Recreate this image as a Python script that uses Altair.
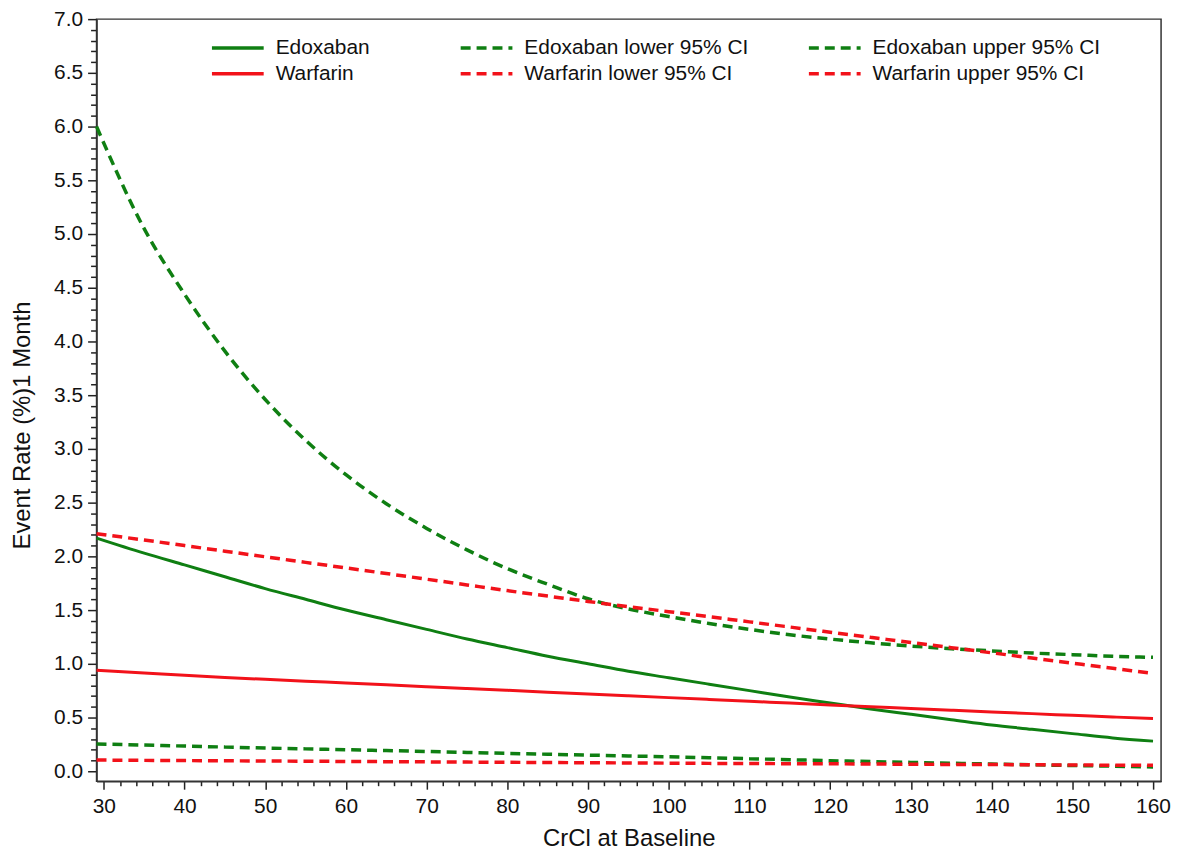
import altair as alt
import pandas as pd

# CrCl grid
crcl = [29.1, 35, 40, 45, 50, 55, 60, 65, 70, 75, 80, 85, 90, 95, 100,
        105, 110, 115, 120, 125, 130, 135, 140, 145, 150, 155, 160]

edoxaban = [2.17, 2.03, 1.92, 1.81, 1.70, 1.60, 1.50, 1.41, 1.32, 1.23, 1.15, 1.07, 1.00, 0.93, 0.87,
            0.81, 0.75, 0.69, 0.635, 0.58, 0.53, 0.48, 0.43, 0.39, 0.35, 0.31, 0.28]
warfarin = [0.940, 0.915, 0.893, 0.873, 0.855, 0.838, 0.821, 0.804, 0.787, 0.770, 0.753, 0.736, 0.719,
            0.702, 0.685, 0.668, 0.651, 0.634, 0.617, 0.600, 0.584, 0.568, 0.552, 0.536, 0.520, 0.505, 0.490]
edoxaban_lo = [0.254, 0.243, 0.234, 0.225, 0.216, 0.208, 0.200, 0.192, 0.184, 0.175, 0.166, 0.158, 0.150,
               0.142, 0.134, 0.125, 0.116, 0.107, 0.098, 0.090, 0.082, 0.074, 0.067, 0.060, 0.053, 0.047, 0.040]
warfarin_lo = [0.104, 0.101, 0.099, 0.097, 0.095, 0.093, 0.091, 0.089, 0.087, 0.085, 0.083, 0.081, 0.079,
               0.077, 0.075, 0.073, 0.072, 0.070, 0.069, 0.067, 0.065, 0.063, 0.062, 0.060, 0.058, 0.056, 0.055]
edoxaban_hi = [6.00, 5.05, 4.44, 3.91, 3.46, 3.08, 2.76, 2.49, 2.26, 2.06, 1.885, 1.74, 1.605, 1.51, 1.44,
               1.375, 1.32, 1.27, 1.23, 1.195, 1.165, 1.14, 1.12, 1.10, 1.085, 1.07, 1.06]
warfarin_hi = [2.210, 2.152, 2.100, 2.048, 1.996, 1.944, 1.892, 1.840, 1.787, 1.734, 1.681, 1.630, 1.580,
               1.532, 1.485, 1.438, 1.390, 1.342, 1.294, 1.246, 1.198, 1.150, 1.102, 1.054, 1.006, 0.958, 0.910]

GREEN = "#0f7f12"
RED = "#f2121a"
FONT = "Liberation Sans"


def frame(pairs):
    rows = []
    for name, vals in pairs:
        for c, v in zip(crcl, vals):
            rows.append({"crcl": c, "rate": v, "series": name})
    return pd.DataFrame(rows)


df_main = frame([("Edoxaban", edoxaban), ("Warfarin", warfarin)])
df_lo = frame([("Edoxaban lower 95% CI", edoxaban_lo), ("Warfarin lower 95% CI", warfarin_lo)])
df_hi = frame([("Edoxaban upper 95% CI", edoxaban_hi), ("Warfarin upper 95% CI", warfarin_hi)])

xscale = alt.Scale(domain=[29.1, 161], nice=False, zero=False)
yscale = alt.Scale(domain=[-0.093, 7.0], nice=False, zero=False)

x_major = alt.Axis(orient="bottom", values=list(range(30, 161, 10)), tickSize=8, tickWidth=1.5,
                   tickColor="#222", labelFontSize=21, labelFont=FONT, labelColor="#111",
                   labelPadding=6, title="CrCl at Baseline", titleFont=FONT, titleFontSize=24,
                   titleFontWeight="normal", titleColor="#111", titlePadding=11, grid=False,
                   domainColor="#333", domainWidth=1.5, labelFlush=False)
y_major = alt.Axis(orient="left", values=[i * 0.5 for i in range(15)], format=".1f", tickSize=9,
                   tickWidth=1.5, tickColor="#222", labelFontSize=21, labelFont=FONT,
                   labelColor="#111", labelPadding=5, title="Event Rate (%)1 Month", titleFont=FONT,
                   titleFontSize=24, titleFontWeight="normal", titleColor="#111", titlePadding=19,
                   titleY=408, grid=False, domainColor="#333", domainWidth=1.5, labelFlush=False)

x_minor_vals = [v for v in range(30, 161, 2) if v % 10 != 0]
y_minor_vals = [round(i * 0.1, 1) for i in range(71) if i % 5 != 0]
x_minor = alt.Axis(orient="bottom", values=x_minor_vals, tickSize=4.5, tickWidth=1.5, tickColor="#222",
                   labels=False, domain=False, grid=False, title=None)
y_minor = alt.Axis(orient="left", values=y_minor_vals, tickSize=6, tickWidth=1.5, tickColor="#222",
                   labels=False, domain=False, grid=False, title=None)

# wide horizontal line symbol on a small symbol box (keeps legend rows compact)
LINE_SYMBOL = "M-2.6,0H2.6"


def legend(lx, dash=None):
    kw = dict(orient="none", legendX=lx, legendY=17, title=None, symbolType=LINE_SYMBOL,
              symbolSize=400, symbolStrokeWidth=3.5, symbolFillColor="transparent",
              labelFont=FONT, labelFontSize=21, labelColor="#111", labelOffset=26,
              rowPadding=4, padding=0, labelLimit=500)
    if dash:
        kw["symbolDash"] = dash
    return alt.Legend(**kw)


DASH = [10, 6]

solid = alt.Chart(df_main).mark_line(strokeWidth=3, interpolate="monotone").encode(
    x=alt.X("crcl:Q", scale=xscale, axis=x_major),
    y=alt.Y("rate:Q", scale=yscale, axis=y_major),
    color=alt.Color("series:N", scale=alt.Scale(domain=["Edoxaban", "Warfarin"], range=[GREEN, RED]),
                    legend=legend(130)),
)

lower = alt.Chart(df_lo).mark_line(strokeWidth=3.5, strokeDash=DASH, interpolate="monotone").encode(
    x=alt.X("crcl:Q", scale=xscale, axis=None),
    y=alt.Y("rate:Q", scale=yscale, axis=None),
    color=alt.Color("series:N",
                    scale=alt.Scale(domain=["Edoxaban lower 95% CI", "Warfarin lower 95% CI"],
                                    range=[GREEN, RED]),
                    legend=legend(380, DASH)),
)

upper = alt.Chart(df_hi).mark_line(strokeWidth=3.5, strokeDash=DASH, interpolate="monotone").encode(
    x=alt.X("crcl:Q", scale=xscale, axis=None),
    y=alt.Y("rate:Q", scale=yscale, axis=None),
    color=alt.Color("series:N",
                    scale=alt.Scale(domain=["Edoxaban upper 95% CI", "Warfarin upper 95% CI"],
                                    range=[GREEN, RED]),
                    legend=legend(730, DASH)),
)

minor = alt.Chart(df_main).mark_line(opacity=0).encode(
    x=alt.X("crcl:Q", scale=xscale, axis=x_minor),
    y=alt.Y("rate:Q", scale=yscale, axis=y_minor),
    detail="series:N",
)

chart = alt.layer(minor, upper, lower, solid).resolve_scale(
    color="independent"
).resolve_axis(
    x="independent", y="independent"
).properties(
    width=1070, height=766,
    padding={"left": 2, "top": -2, "right": 5, "bottom": 5},
    background="white",
).configure_view(stroke="#333", strokeWidth=1.5)

chart.save("out.html", embed_options={"renderer": "svg", "actions": False})
